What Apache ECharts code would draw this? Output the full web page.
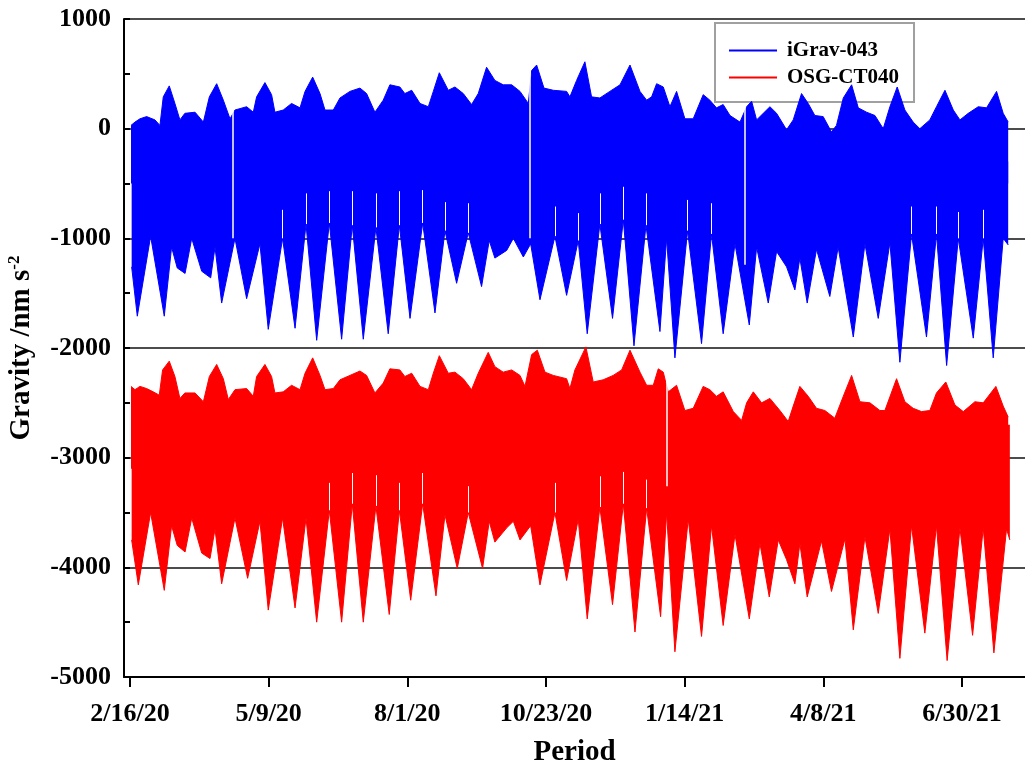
<!DOCTYPE html>
<html>
<head>
<meta charset="utf-8">
<script src="https://cdn.jsdelivr.net/npm/echarts@6/dist/echarts.min.js"></script>
<style>
  html, body { margin: 0; padding: 0; background: #fff; }
  #chart { width: 1025px; height: 764px; }
</style>
</head>
<body>
<div id="chart"></div>
<script>
// x values are days since 2/16/20
const tickDays = [0, 83.333, 166.667, 250, 333.333, 416.667, 500];
const tickLabels = ['2/16/20', '5/9/20', '8/1/20', '10/23/20', '1/14/21', '4/8/21', '6/30/21'];

// iGrav-043, upper edge of the tidal band
const blueUpperDay = [0.6, 3.0, 6.0, 10.0, 15.0, 18.0, 20.0, 23.6, 27.0, 30.0, 33.0, 39.1, 44.1, 47.7, 52.1, 56.1, 60.1, 63.1, 70.1, 74.1,
  76.1, 81.1, 85.1, 87.1, 92.1, 97.1, 102.2, 105.2, 109.8, 114.2, 117.2, 122.2, 126.2, 132.2, 138.2, 142.2, 147.2, 152.2, 156.2, 162.2,
  165.2, 169.3, 174.3, 179.3, 182.3, 185.9, 191.3, 195.3, 200.3, 205.3, 209.3, 214.3, 219.3, 224.3, 229.4, 234.4, 239.4, 241.4, 244.4, 248.8,
  254.4, 262.4, 264.4, 268.4, 273.4, 277.4, 282.4, 288.4, 294.5, 300.5, 306.5, 310.5, 313.5, 316.5, 320.5, 324.5, 328.5, 331.5, 333.5, 338.5,
  344.5, 348.5, 352.5, 356.5, 360.6, 366.6, 370.6, 373.6, 376.6, 380.6, 384.6, 388.6, 394.6, 398.6, 403.6, 407.6, 411.6, 416.6, 421.6, 424.6,
  428.7, 433.7, 437.7, 442.7, 447.7, 452.7, 456.7, 461.1, 465.7, 470.7, 474.7, 480.7, 484.7, 489.8, 494.8, 498.8, 503.8, 509.8, 514.8, 520.8,
  524.8, 527.8];
const blueUpperVal = [30, 60, 90, 110, 80, 30, 290, 390, 230, 80, 140, 150, 60, 290, 410, 260, 90, 170, 200, 150,
  290, 420, 310, 150, 170, 230, 190, 340, 470, 320, 170, 170, 280, 340, 370, 320, 150, 260, 400, 380,
  320, 350, 230, 200, 340, 510, 350, 380, 320, 220, 320, 560, 440, 400, 400, 340, 230, 530, 580, 370,
  350, 340, 290, 440, 610, 290, 280, 340, 400, 580, 340, 260, 290, 410, 380, 200, 340, 190, 90, 90,
  310, 260, 190, 220, 120, 60, 200, 250, 80, 140, 200, 140, -10, 80, 320, 230, 120, 110, -30, 30,
  280, 400, 190, 150, 120, 0, 200, 380, 170, 60, 0, 80, 200, 350, 170, 80, 140, 200, 190, 340,
  140, 60];

// iGrav-043, lower edge (spring-tide troughs and the notch apexes between them)
const blueLowerDay = [1.0, 4.4, 12.4, 20.6, 25.0, 28.4, 33.1, 37.1, 43.1, 48.5, 51.1, 55.1, 63.1, 70.1, 78.1, 83.1, 91.7, 99.2, 105.8, 112.2,
  119.8, 127.2, 133.6, 140.2, 147.8, 155.2, 161.9, 168.3, 175.9, 183.3, 189.3, 196.3, 203.3, 211.3, 215.9, 219.3, 226.4, 230.4, 236.4, 240.8,
  246.4, 255.4, 262.4, 269.4, 274.8, 282.4, 290.0, 296.5, 302.9, 310.1, 318.5, 322.5, 327.5, 335.1, 343.5, 349.5, 356.5, 363.6, 372.2, 376.6,
  383.6, 388.6, 394.6, 399.6, 402.6, 407.0, 412.6, 420.6, 425.6, 434.7, 441.7, 449.7, 456.7, 462.7, 469.7, 478.7, 484.7, 490.8, 497.8, 506.8,
  512.8, 518.8, 524.8, 527.8];
const blueLowerVal = [-1260, -1710, -980, -1710, -1080, -1270, -1320, -1000, -1300, -1360, -1080, -1590, -1000, -1550, -1050, -1830, -1000, -1820, -870, -1930,
  -860, -1920, -880, -1920, -900, -1870, -880, -1730, -860, -1680, -930, -1410, -950, -1440, -1020, -1180, -1110, -1000, -1170, -1050,
  -1560, -980, -1520, -1020, -1870, -870, -1730, -830, -1980, -880, -1850, -1000, -2090, -930, -1960, -960, -1870, -1050, -1790, -1080,
  -1590, -1120, -1260, -1470, -1180, -1590, -1100, -1530, -1080, -1900, -1050, -1730, -1040, -2130, -960, -1900, -960, -2160, -1000, -1910,
  -1000, -2090, -1000, -1060];

// OSG-CT040, upper edge
const redUpperDay = [0.6, 3.0, 6.0, 10.0, 14.0, 17.6, 19.6, 23.6, 27.0, 30.0, 33.0, 39.1, 44.1, 47.7, 52.1, 56.1, 59.1, 63.1, 70.1, 74.1,
  76.1, 81.1, 85.1, 87.1, 92.1, 97.1, 102.2, 105.2, 109.8, 114.2, 117.2, 122.2, 126.2, 132.2, 138.2, 142.2, 147.2, 152.2, 156.2, 162.2,
  165.2, 169.3, 174.3, 179.3, 182.3, 185.9, 191.3, 195.3, 200.3, 205.3, 209.3, 215.3, 219.3, 224.3, 229.4, 234.4, 237.4, 241.4, 244.8, 249.4,
  254.4, 262.4, 264.4, 267.4, 274.0, 278.4, 284.4, 290.4, 295.5, 300.5, 306.5, 310.5, 314.5, 317.5, 320.5, 322.1, 323.5, 328.5, 333.5, 338.5,
  344.5, 348.5, 352.5, 356.5, 362.6, 367.6, 370.6, 374.6, 379.6, 384.6, 390.6, 395.6, 398.6, 402.6, 407.6, 412.6, 417.6, 423.6, 428.7, 433.7,
  438.7, 444.7, 450.7, 453.7, 460.7, 465.7, 470.7, 475.7, 480.7, 484.7, 490.3, 495.8, 500.8, 507.8, 512.8, 520.4, 524.8, 527.8];
const redUpperVal = [-2350, -2380, -2350, -2370, -2400, -2430, -2200, -2120, -2260, -2460, -2410, -2410, -2490, -2260, -2150, -2280, -2470, -2380, -2370, -2440,
  -2260, -2150, -2260, -2410, -2400, -2340, -2380, -2230, -2090, -2250, -2380, -2370, -2290, -2250, -2210, -2250, -2410, -2320, -2190, -2200,
  -2260, -2230, -2350, -2380, -2230, -2070, -2230, -2220, -2280, -2380, -2230, -2040, -2170, -2220, -2200, -2250, -2350, -2060, -2020, -2220,
  -2250, -2280, -2370, -2200, -1990, -2310, -2290, -2250, -2200, -2020, -2220, -2340, -2340, -2190, -2220, -2320, -2400, -2340, -2570, -2550,
  -2350, -2380, -2440, -2400, -2580, -2660, -2500, -2400, -2500, -2460, -2570, -2670, -2530, -2350, -2440, -2550, -2570, -2640, -2440, -2250,
  -2490, -2500, -2570, -2570, -2280, -2490, -2550, -2580, -2570, -2410, -2310, -2520, -2580, -2490, -2500, -2350, -2530, -2630];

// OSG-CT040, lower edge
const redLowerDay = [1.0, 5.0, 12.4, 20.6, 25.0, 28.4, 33.1, 37.1, 43.1, 48.1, 51.1, 55.1, 63.1, 70.7, 78.1, 83.1, 91.7, 99.2, 105.8, 112.2,
  119.8, 127.2, 133.6, 140.2, 147.8, 155.8, 161.9, 168.7, 175.9, 183.9, 189.3, 196.7, 203.3, 211.9, 215.9, 219.3, 226.4, 230.4, 234.4, 240.8,
  246.4, 255.4, 262.4, 269.4, 274.8, 282.4, 290.0, 296.5, 303.5, 310.5, 318.9, 322.5, 327.5, 335.5, 343.5, 349.5, 356.5, 363.6, 372.2, 378.6,
  384.2, 389.6, 394.6, 399.6, 402.6, 407.0, 415.6, 421.6, 429.7, 434.7, 441.7, 449.7, 456.7, 462.7, 469.7, 477.7, 484.7, 491.1, 498.8, 506.4,
  512.8, 519.2, 526.8, 528.8];
const redLowerVal = [-3750, -4160, -3500, -4210, -3620, -3800, -3860, -3550, -3870, -3920, -3650, -4150, -3550, -4100, -3580, -4390, -3550, -4370, -3550, -4500,
  -3480, -4500, -3420, -4500, -3440, -4430, -3480, -4300, -3420, -4260, -3520, -4010, -3500, -4010, -3580, -3770, -3640, -3580, -3750, -3620,
  -4160, -3500, -4120, -3560, -4470, -3450, -4340, -3420, -4590, -3460, -4450, -3500, -4770, -3560, -4630, -3620, -4530, -3700, -4470, -3780,
  -4270, -3750, -3930, -4150, -3780, -4270, -3760, -4220, -3740, -4570, -3720, -4420, -3650, -4830, -3620, -4600, -3620, -4850, -3640, -4620,
  -3640, -4780, -3650, -3750];

// thin white hairlines above the notch apexes, and data gaps: [day, top, bottom]
const blueHairlines = [[91.7, -740, -1000], [105.8, -590, -870], [119.8, -570, -860], [133.6, -570, -880], [147.8, -590, -900],
  [161.9, -570, -880], [175.9, -560, -860], [189.3, -670, -930], [203.3, -680, -950], [255.4, -710, -980], [269.4, -770, -1020],
  [282.4, -590, -870], [296.5, -530, -830], [310.1, -590, -880], [335.1, -650, -930], [349.5, -680, -960], [469.7, -710, -960],
  [484.7, -710, -960], [497.8, -760, -1000], [512.8, -740, -1000]];
const blueGaps = [[62.0, 250, -1000], [240.0, 600, -1000], [369.6, 200, -1240]];
const redHairlines = [[119.8, -3230, -3480], [133.6, -3140, -3420], [147.8, -3160, -3440], [161.9, -3230, -3480], [175.9, -3140, -3420],
  [203.3, -3260, -3500], [255.4, -3230, -3500], [282.4, -3170, -3450], [296.5, -3130, -3420], [310.5, -3200, -3460]];
const redGaps = [[322.5, -2190, -3260]];

const FONT = 'Liberation Serif';
const BLUE = '#0000ff';
const RED = '#ff0000';

function pairs(days, vals) {
  return days.map((d, i) => [d, vals[i]]);
}

function whiteLines(list, width) {
  return list.map(g => [
    { coord: [g[0], g[1]], lineStyle: { color: '#fff', width: width, type: 'solid' } },
    { coord: [g[0], g[2]] }
  ]);
}

function band(name, color, days, vals, origin, hair, gaps) {
  const s = {
    name: name,
    type: 'line',
    data: pairs(days, vals),
    symbol: 'none',
    color: color,
    lineStyle: { color: color, width: 1 },
    areaStyle: { color: color, opacity: 1, origin: origin },
    silent: true
  };
  if (hair) {
    s.markLine = {
      silent: true,
      symbol: 'none',
      label: { show: false },
      lineStyle: { color: '#fff', width: 1, type: 'solid' },
      data: whiteLines(hair, 1).concat(whiteLines(gaps, 1.5))
    };
  }
  return s;
}

const chart = echarts.init(document.getElementById('chart'));

chart.setOption({
  animation: false,
  backgroundColor: '#fff',
  grid: { left: 124, right: 0, top: 19, bottom: 87, containLabel: false, outerBoundsMode: 'none' },
  legend: {
    orient: 'vertical',
    left: 715,
    top: 23,
    z: 1,
    padding: [17, 15, 14, 14],
    itemGap: 6,
    itemWidth: 48,
    itemHeight: 2,
    icon: 'rect',
    borderColor: '#a0a0a0',
    borderWidth: 2,
    data: ['iGrav-043', 'OSG-CT040'],
    textStyle: { fontFamily: FONT, fontWeight: 'bold', fontSize: 21, color: '#000', padding: [0, 0, 0, 5] }
  },
  xAxis: {
    type: 'value',
    min: -3.6,
    max: 537.9,
    name: 'Period',
    nameLocation: 'middle',
    nameGap: 61,
    nameTextStyle: { fontFamily: FONT, fontWeight: 'bold', fontSize: 29, color: '#000' },
    axisLine: { show: true, onZero: false, lineStyle: { color: '#000', width: 2 } },
    axisTick: { show: true, inside: false, length: 10, customValues: tickDays, lineStyle: { color: '#000', width: 2 } },
    axisLabel: {
      customValues: tickDays,
      margin: 24,
      fontFamily: FONT, fontWeight: 'bold', fontSize: 26, color: '#000',
      formatter: function (v) {
        const i = tickDays.findIndex(t => Math.abs(t - v) < 0.01);
        return i >= 0 ? tickLabels[i] : '';
      }
    },
    splitLine: { show: false }
  },
  yAxis: {
    type: 'value',
    min: -5000,
    max: 1000,
    interval: 1000,
    name: '{m|Gravity /nm s}{s|-2}',
    nameLocation: 'middle',
    nameGap: 86,
    nameRotate: 90,
    nameTextStyle: {
      fontFamily: FONT, fontWeight: 'bold', fontSize: 28, color: '#000',
      rich: {
        m: { fontFamily: FONT, fontWeight: 'bold', fontSize: 29, color: '#000', lineHeight: 32 },
        s: { fontFamily: FONT, fontWeight: 'bold', fontSize: 17, color: '#000', lineHeight: 32, verticalAlign: 'top' }
      }
    },
    axisLine: { show: true, onZero: false, lineStyle: { color: '#000', width: 2 } },
    axisTick: { show: true, inside: true, length: 6, lineStyle: { color: '#000', width: 2 } },
    minorTick: { show: true, splitNumber: 2, length: 6, lineStyle: { color: '#000', width: 2 } },
    axisLabel: {
      margin: 13, fontFamily: FONT, fontWeight: 'bold', fontSize: 26, color: '#000',
      formatter: function (v) { return String(v); }
    },
    splitLine: { show: true, lineStyle: { color: '#111', width: 1.5 } }
  },
  series: [
    band('iGrav-043', BLUE, blueUpperDay, blueUpperVal, -500),
    band('iGrav-043', BLUE, blueLowerDay, blueLowerVal, -300, blueHairlines, blueGaps),
    band('OSG-CT040', RED, redUpperDay, redUpperVal, -3100),
    band('OSG-CT040', RED, redLowerDay, redLowerVal, -2700, redHairlines, redGaps)
  ]
});
</script>
</body>
</html>
